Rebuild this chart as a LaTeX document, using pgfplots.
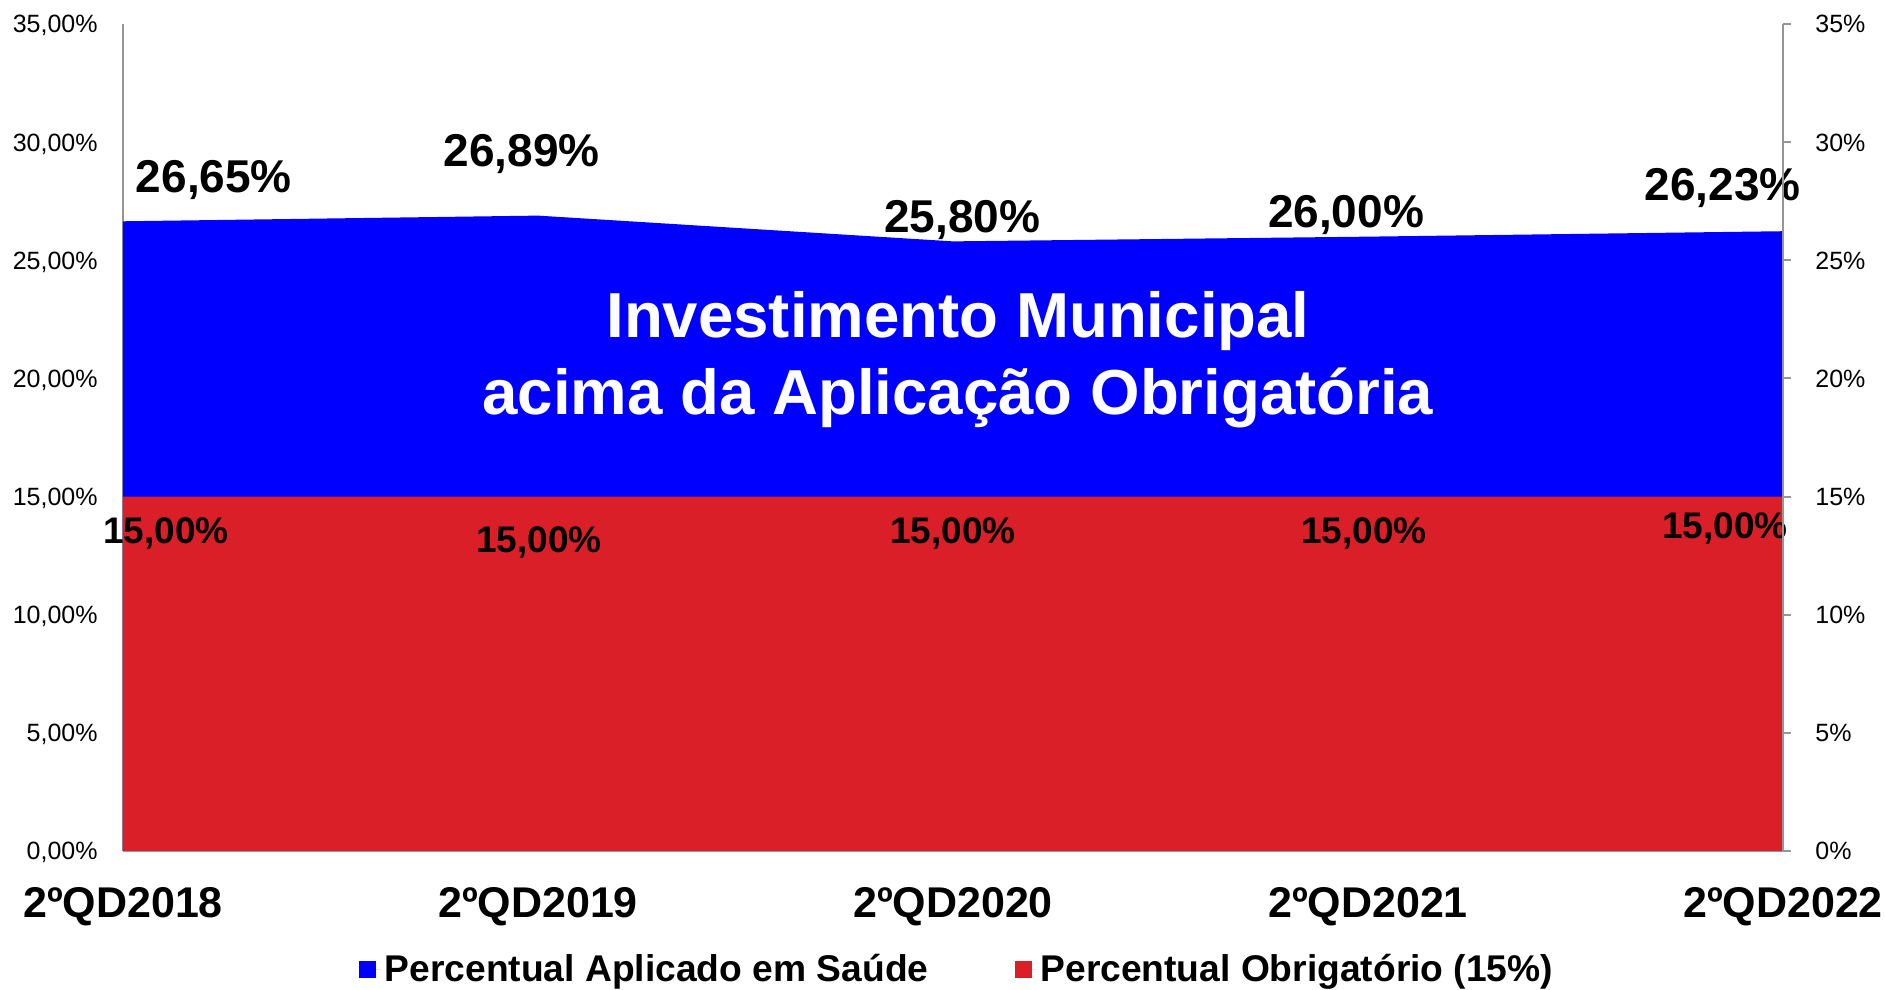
\documentclass[border=0pt]{standalone}
\usepackage{fontspec}
\setmainfont{Liberation Sans}
\usepackage{pgfplots}
\pgfplotsset{compat=1.18}
\definecolor{axgray}{RGB}{150,150,150}
\definecolor{myblue}{RGB}{0,0,255}
\definecolor{myred}{RGB}{218,31,41}
\begin{document}
\begin{tikzpicture}
\path[use as bounding box] (-61.5pt,-69.5pt) rectangle (881pt,425.5pt);
\begin{axis}[
  at={(0,0)}, anchor=south west,
  scale only axis, width=830pt, height=413.5pt,
  xmin=0, xmax=4, ymin=0, ymax=35,
  axis x line*=bottom, axis y line*=left,
  axis line style={axgray, line width=1pt},
  every axis plot/.append style={-},
  xtick={0,1,2,3,4},
  xticklabels={2ºQD2018,2ºQD2019,2ºQD2020,2ºQD2021,2ºQD2022},
  ytick={0,5,10,15,20,25,30,35},
  yticklabels={{0,00\%},{5,00\%},{10,00\%},{15,00\%},{20,00\%},{25,00\%},{30,00\%},{35,00\%}},
  major tick length=0pt,
  clip=false,
  /pgf/number format/assume math mode=true,
  xticklabel style={anchor=base, yshift=-33.25pt, font=\bfseries\fontsize{21.5}{25}\selectfont},
  yticklabel style={anchor=base east, inner sep=0pt, xshift=-12.5pt, yshift=-4.5pt, font=\fontsize{12.5}{15}\selectfont},
  legend columns=2,
  legend style={at={(0.503,-0.1427)}, anchor=center, draw=none, fill=none,
    font=\bfseries\fontsize{18.6}{22}\selectfont,
    /tikz/every even column/.append style={column sep=41pt},
    /tikz/every odd column/.append style={column sep=0pt}},
  legend image code/.code={\fill[#1] (0pt,-4.25pt) rectangle (8.5pt,4.25pt); \path (0pt,0pt) -- (11pt,0pt);},
]
\addplot[fill=myblue, draw=none] coordinates {(0,26.65) (1,26.89) (2,25.80) (3,26.00) (4,26.23)} \closedcycle;
\addlegendentry{Percentual Aplicado em Saúde}
\addplot[fill=myred, draw=none] coordinates {(0,15) (1,15) (2,15) (3,15) (4,15)} \closedcycle;
\addlegendentry{Percentual Obrigatório (15\%)}

\begin{scope}[every node/.style={anchor=base, inner sep=0pt, font=\bfseries\fontsize{23}{27}\selectfont}]
\node at (axis cs:0.219,27.87) {26,65\%};
\node at (axis cs:0.961,28.97) {26,89\%};
\node at (axis cs:2.022,26.18) {25,80\%};
\node at (axis cs:2.947,26.39) {26,00\%};
\node at (axis cs:3.855,27.53) {26,23\%};
\end{scope}
\begin{scope}[every node/.style={anchor=base, inner sep=0pt, font=\bfseries\fontsize{18.5}{22}\selectfont}]
\node at (axis cs:0.104,13.01) {15,00\%};
\node at (axis cs:1.002,12.63) {15,00\%};
\node at (axis cs:2.0,13.01) {15,00\%};
\node at (axis cs:2.99,13.01) {15,00\%};
\node at (axis cs:3.86,13.23) {15,00\%};
\end{scope}
\begin{scope}[every node/.style={anchor=base, inner sep=0pt, text=white, font=\bfseries\fontsize{31.8}{38}\selectfont}]
\node at (axis cs:2.012,21.73) {Investimento Municipal};
\node at (axis cs:2.012,18.47) {acima da Aplicação Obrigatória};
\end{scope}
\end{axis}
\begin{axis}[
  at={(0,0)}, anchor=south west,
  scale only axis, width=830pt, height=413.5pt,
  xmin=0, xmax=4, ymin=0, ymax=35,
  axis x line=none, axis y line*=right,
  axis line style={axgray, line width=1pt},
  xtick=\empty,
  ytick={0,5,10,15,20,25,30,35},
  yticklabels={0\%,5\%,10\%,15\%,20\%,25\%,30\%,35\%},
  tick align=outside, major tick length=4pt,
  tick style={axgray, line width=1pt},
  /pgf/number format/assume math mode=true,
  yticklabel style={anchor=base west, inner sep=0pt, xshift=12pt, yshift=-4.5pt, font=\fontsize{12.5}{15}\selectfont},
]
\end{axis}
\end{tikzpicture}
\end{document}
